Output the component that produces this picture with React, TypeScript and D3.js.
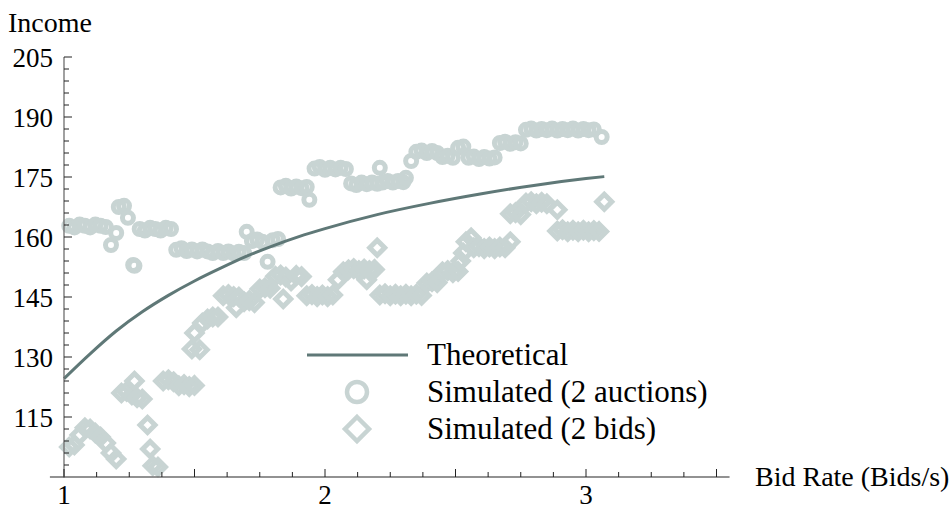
import React from "react";
import * as d3 from "d3";

// ---- data ----
const theoretical: [number, number][] = [
  [1.0, 124.6], [1.1, 130.8], [1.2, 136.5], [1.3, 141.3], [1.4, 145.4], [1.5, 149.0],
  [1.6, 152.2], [1.7, 155.2], [1.8, 157.8], [1.9, 160.1], [2.0, 162.1], [2.2, 165.6],
  [2.4, 168.4], [2.6, 170.8], [2.8, 172.9], [3.0, 174.6], [3.07, 175.1],
];

const auctions: [number, number][] = [
  [1.02, 162.8], [1.04, 162.4], [1.06, 163.1], [1.08, 162.8], [1.1, 162.4], [1.12, 163.1], [1.14, 162.8], [1.16, 162.5],
  [1.18, 158.0], [1.2, 161.0], [1.21, 167.5], [1.23, 167.8], [1.245, 164.8], [1.265, 153.0], [1.27, 152.8],
  [1.29, 162.0], [1.31, 161.6], [1.33, 162.3], [1.35, 162.0], [1.37, 161.6], [1.39, 162.3], [1.41, 162.0],
  [1.43, 156.8], [1.45, 157.2], [1.47, 156.5], [1.49, 156.9], [1.51, 156.4], [1.53, 156.9], [1.55, 156.4],
  [1.57, 156.0], [1.59, 156.5], [1.61, 156.0], [1.63, 156.4], [1.65, 155.9], [1.67, 156.3], [1.69, 156.0],
  [1.7, 161.3], [1.72, 159.0], [1.74, 159.4], [1.76, 158.8], [1.78, 153.8], [1.8, 159.2], [1.82, 159.5],
  [1.83, 172.4], [1.85, 172.8], [1.87, 172.1], [1.89, 172.6], [1.91, 172.2], [1.93, 172.5], [1.94, 169.3],
  [1.96, 177.1], [1.98, 177.5], [2.0, 176.8], [2.02, 177.3], [2.04, 176.9], [2.06, 177.3], [2.08, 177.0],
  [2.1, 173.4], [2.12, 173.0], [2.14, 173.6], [2.16, 173.2], [2.18, 173.6], [2.2, 173.3], [2.21, 177.3],
  [2.22, 173.6], [2.24, 174.0], [2.26, 173.6], [2.28, 174.0], [2.3, 173.7], [2.31, 174.8],
  [2.33, 179.0], [2.35, 181.3], [2.37, 181.6], [2.39, 181.0], [2.41, 181.5], [2.43, 181.0],
  [2.45, 180.0], [2.47, 180.3], [2.49, 179.8], [2.51, 182.3], [2.53, 182.6],
  [2.55, 179.8], [2.57, 180.1], [2.59, 179.5], [2.61, 180.0], [2.63, 179.6], [2.65, 179.9],
  [2.67, 183.5], [2.69, 183.8], [2.71, 183.3], [2.73, 183.7], [2.75, 183.4],
  [2.77, 186.8], [2.79, 187.1], [2.81, 186.6], [2.83, 187.0], [2.85, 186.7], [2.87, 187.1], [2.89, 186.6],
  [2.91, 187.0], [2.93, 186.7], [2.95, 187.1], [2.97, 186.6], [2.99, 187.0], [3.01, 186.7], [3.03, 186.9],
  [3.06, 185.0],
];

const bids: [number, number][] = [
  [1.02, 107.5], [1.04, 108.0], [1.06, 110.5], [1.08, 112.3], [1.1, 112.0], [1.12, 111.0], [1.14, 110.0],
  [1.16, 108.5], [1.18, 106.0], [1.2, 104.5],
  [1.22, 121.0], [1.24, 121.4], [1.26, 120.5], [1.27, 124.0], [1.28, 119.8], [1.3, 119.5],
  [1.32, 113.0], [1.33, 107.0], [1.34, 102.8], [1.36, 102.5],
  [1.38, 124.0], [1.4, 124.3], [1.42, 123.8], [1.44, 122.8], [1.46, 123.1], [1.48, 122.6], [1.5, 122.9],
  [1.49, 132.0], [1.5, 136.0], [1.52, 131.8], [1.53, 138.5], [1.55, 139.5], [1.57, 140.0], [1.59, 140.0],
  [1.61, 145.3], [1.63, 145.6], [1.65, 145.1], [1.67, 145.0], [1.66, 142.3],
  [1.69, 143.8], [1.71, 144.1], [1.73, 143.6], [1.75, 147.0], [1.77, 147.3], [1.79, 147.2],
  [1.81, 150.2], [1.83, 150.5], [1.84, 144.5], [1.85, 150.0], [1.87, 149.0], [1.89, 150.4], [1.91, 150.1],
  [1.93, 145.3], [1.95, 145.6], [1.97, 145.1], [1.99, 145.5], [2.01, 145.1], [2.03, 145.5],
  [2.05, 149.3], [2.07, 151.3], [2.09, 151.8], [2.11, 152.1], [2.13, 151.6], [2.15, 152.0], [2.16, 149.3],
  [2.17, 151.6], [2.19, 151.9], [2.2, 157.3],
  [2.21, 145.5], [2.23, 145.8], [2.25, 145.3], [2.27, 145.7], [2.29, 145.3], [2.31, 145.7], [2.33, 145.3],
  [2.35, 145.7], [2.37, 145.4],
  [2.39, 148.5], [2.41, 148.8], [2.43, 148.6], [2.45, 151.3], [2.47, 151.6], [2.49, 151.1], [2.51, 151.4],
  [2.52, 154.0], [2.53, 156.0], [2.54, 158.8], [2.56, 159.8], [2.57, 157.3], [2.59, 157.6], [2.61, 157.1],
  [2.63, 157.5], [2.65, 157.1], [2.67, 157.5], [2.69, 157.3], [2.71, 158.8],
  [2.71, 165.8], [2.73, 166.1], [2.75, 165.6], [2.77, 168.5], [2.79, 168.8], [2.81, 168.3], [2.83, 168.7],
  [2.85, 168.3], [2.89, 166.8],
  [2.89, 161.5], [2.91, 161.8], [2.93, 161.3], [2.95, 161.7], [2.97, 161.3], [2.99, 161.7], [3.01, 161.3],
  [3.03, 161.6], [3.05, 161.4], [3.07, 168.8],
];

const xTickLabels = [1, 2, 3];
const yTickLabels = [115, 130, 145, 160, 175, 190, 205];
const legendLabels = ["Theoretical", "Simulated (2 auctions)", "Simulated (2 bids)"];

// ---- styles ----
const W = 950;
const H = 511;
const MARK = "#c8d4d3";
const CURVE = "#5f7877";
const AXIS = "#6e6e6e";
const FONT = '"Liberation Serif", "Times New Roman", Times, "DejaVu Serif", serif';

export default function App() {
  const x = d3.scaleLinear().domain([1, 3]).range([64, 586]);
  const y = d3.scaleLinear().domain([100, 205]).range([477, 57]);

  const xAxisStart = 0.946;
  const xAxisEnd = 3.55;

  const line = d3
    .line<[number, number]>()
    .x((d) => x(d[0]))
    .y((d) => y(d[1]))
    .curve(d3.curveMonotoneX);

  const xMinor = d3.range(1, 3.51, 0.125);
  const yMinor = d3.range(103, 205.1, 3);

  const r = 5.5;
  const dd = 7.5;
  const diamond = (s: number) => `M0,${-s}L${s},0L0,${s}L${-s},0Z`;

  const legX = 357;
  const legTextX = 427;
  const legY = [355, 392, 429];
  const txt = { fontFamily: FONT };

  return (
    <svg
      width={W}
      height={H}
      style={{ position: "absolute", left: 0, top: 0, background: "#fff", fontFamily: FONT }}
    >
      {/* markers */}
      <g fill="none" stroke={MARK} strokeWidth={5}>
        {auctions.map((d, i) => (
          <circle key={"a" + i} cx={x(d[0])} cy={y(d[1])} r={r} />
        ))}
        {bids.map((d, i) => (
          <path key={"b" + i} d={diamond(dd)} transform={`translate(${x(d[0])},${y(d[1])})`} />
        ))}
      </g>

      {/* theoretical curve */}
      <path d={line(theoretical) || ""} fill="none" stroke={CURVE} strokeWidth={3} />

      {/* axes */}
      <line x1={x(xAxisStart)} x2={x(xAxisEnd)} y1={y(100)} y2={y(100)} stroke={AXIS} strokeWidth={1.3} />
      <line x1={x(1)} x2={x(1)} y1={y(205)} y2={y(100) + 1} stroke={AXIS} strokeWidth={1.3} />

      {xMinor.map((v, i) => {
        const major = Math.abs(v * 2 - Math.round(v * 2)) < 1e-6;
        return (
          <line key={"xt" + i} x1={x(v)} x2={x(v)} y1={y(100)} y2={y(100) - (major ? 8 : 5)} stroke="#222" strokeWidth={1} />
        );
      })}
      {yMinor.map((v, i) => {
        const major = (v - 100) % 15 === 0;
        return (
          <line key={"yt" + i} x1={x(1)} x2={x(1) + (major ? 8 : 5)} y1={y(v)} y2={y(v)} stroke="#222" strokeWidth={1} />
        );
      })}

      {xTickLabels.map((v) => (
        <text key={"xl" + v} x={x(v)} y={504} textAnchor="middle" fontSize={27} fill="#000" style={txt}>
          {v}
        </text>
      ))}
      {yTickLabels.map((v) => (
        <text key={"yl" + v} x={53} y={y(v) + 9.5} textAnchor="end" fontSize={27} fill="#000" style={txt}>
          {v}
        </text>
      ))}

      <text x={8} y={32} fontSize={28} fill="#000" style={txt}>Income</text>
      <text x={755} y={486} fontSize={28} fill="#000" style={txt}>Bid Rate (Bids/s)</text>

      {/* legend */}
      <line x1={307} x2={408} y1={legY[0]} y2={legY[0]} stroke={CURVE} strokeWidth={3} />
      <circle cx={legX} cy={legY[1]} r={10} fill="none" stroke={MARK} strokeWidth={4.5} />
      <path d={diamond(12)} transform={`translate(${legX},${legY[2]})`} fill="none" stroke={MARK} strokeWidth={4.5} />
      {legendLabels.map((t, i) => (
        <text key={t} x={legTextX} y={legY[i] + 10} fontSize={31} fill="#000" style={txt}>
          {t}
        </text>
      ))}
    </svg>
  );
}
